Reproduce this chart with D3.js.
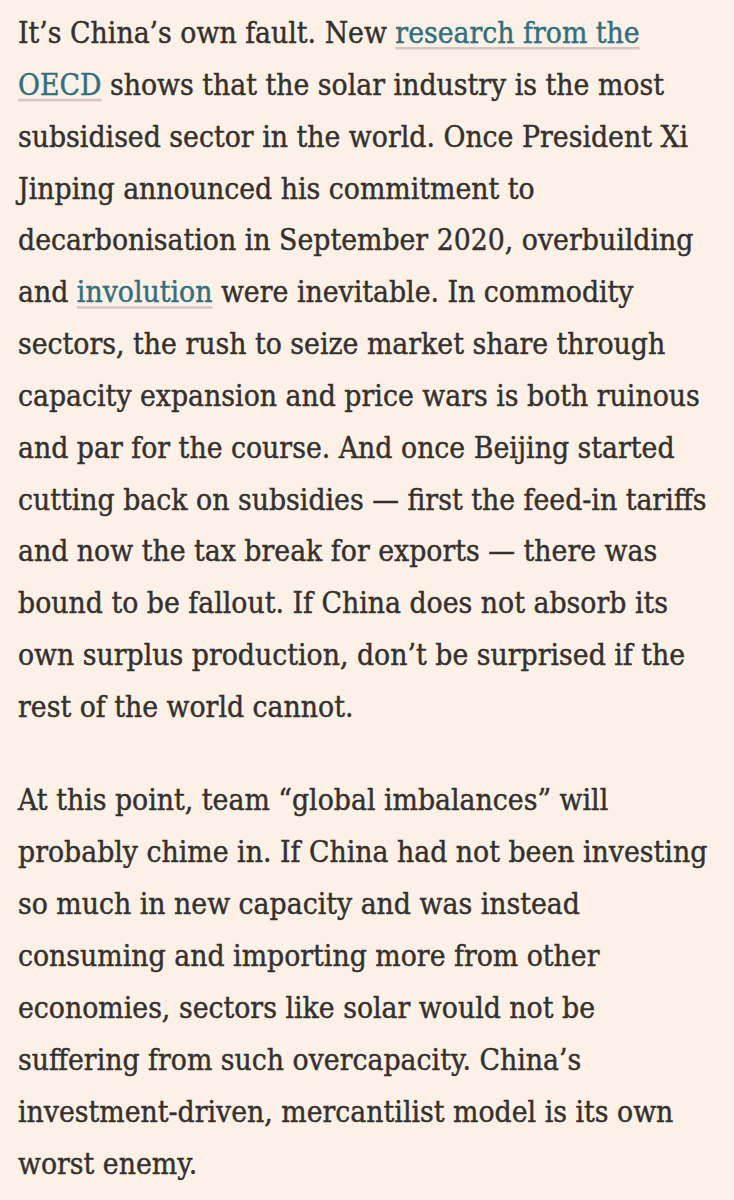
<!DOCTYPE html>
<html>
<head>
<meta charset="utf-8">
<script src="https://cdn.jsdelivr.net/npm/d3@7"></script>
<style>
  html, body { margin: 0; padding: 0; background: #fdf0e6; }
  svg { display: block; }
</style>
</head>
<body>
<div id="page"></div>
<script>
// text of the two paragraphs, one entry per printed line; [..] marks a link
var paragraphOne = [
  "It’s China’s own fault. New [research from the]",
  "[OECD] shows that the solar industry is the most",
  "subsidised sector in the world. Once President Xi",
  "Jinping announced his commitment to",
  "decarbonisation in September 2020, overbuilding",
  "and [involution] were inevitable. In commodity",
  "sectors, the rush to seize market share through",
  "capacity expansion and price wars is both ruinous",
  "and par for the course. And once Beijing started",
  "cutting back on subsidies — first the feed-in tariffs",
  "and now the tax break for exports — there was",
  "bound to be fallout. If China does not absorb its",
  "own surplus production, don’t be surprised if the",
  "rest of the world cannot."
];
var paragraphTwo = [
  "At this point, team “global imbalances” will",
  "probably chime in. If China had not been investing",
  "so much in new capacity and was instead",
  "consuming and importing more from other",
  "economies, sectors like solar would not be",
  "suffering from such overcapacity. China’s",
  "investment-driven, mercantilist model is its own",
  "worst enemy."
];

var width = 734, height = 1200;
var left = 18;
var fontSize = 29;
var textColor = "#33302e", linkColor = "#2f6f7e", lineColor = "#cfc8c0";

var svg = d3.select("#page").append("svg")
    .attr("width", width)
    .attr("height", height);

svg.append("rect").attr("width", width).attr("height", height).attr("fill", "#fdf0e6");

// baselines: each paragraph is laid out on its own row scale
var y1 = d3.scaleLinear().domain([0, 1]).range([43, 94.85]);
var y2 = d3.scaleLinear().domain([0, 1]).range([810, 862]);

function parse(line) {
  var parts = [], re = /\[([^\]]+)\]/g, last = 0, m;
  while ((m = re.exec(line)) !== null) {
    if (m.index > last) parts.push({t: line.slice(last, m.index), link: false});
    parts.push({t: m[1], link: true});
    last = re.lastIndex;
  }
  if (last < line.length) parts.push({t: line.slice(last), link: false});
  return parts;
}

var rows = paragraphOne.map(function(l, i) { return {parts: parse(l), y: y1(i)}; })
  .concat(paragraphTwo.map(function(l, i) { return {parts: parse(l), y: y2(i)}; }));

var g = svg.append("g");

var texts = g.selectAll("text.line")
  .data(rows)
  .enter()
  .append("text")
  .attr("class", "line")
  .attr("x", left)
  .attr("y", function(d) { return d.y; })
  .style("font-family", "'DejaVu Serif', Georgia, serif")
  .style("font-size", fontSize + "px")
  .attr("fill", textColor);

texts.selectAll("tspan")
  .data(function(d) { return d.parts; })
  .enter()
  .append("tspan")
  .attr("fill", function(d) { return d.link ? linkColor : textColor; })
  .attr("stroke", function(d) { return d.link ? linkColor : textColor; })
  .attr("stroke-width", 0.45)
  .text(function(d) { return d.t; });

// squeeze horizontally so the widest measured line spans like the original
var ref = texts.filter(function(d, i) { return i === 7; }).node();
var sx = 682 / ref.getComputedTextLength();
g.attr("transform", "translate(" + left + ",0) scale(" + sx + ",1) translate(" + (-left) + ",0)");

// underlines under links
texts.each(function(d) {
  var node = this, pos = 0;
  d.parts.forEach(function(p) {
    if (p.link) {
      var x0 = pos === 0 ? 0 : node.getSubStringLength(0, pos);
      var w = node.getSubStringLength(pos, p.t.length);
      g.insert("rect", "text")
        .attr("x", left + x0)
        .attr("y", d.y + 4)
        .attr("width", w)
        .attr("height", 2.5)
        .attr("fill", lineColor);
    }
    pos += p.t.length;
  });
});
</script>
</body>
</html>
